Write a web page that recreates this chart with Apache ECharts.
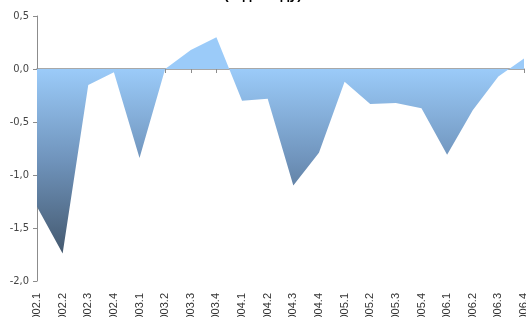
<!DOCTYPE html>
<html>
<head>
<meta charset="utf-8">
<script src="https://cdn.jsdelivr.net/npm/echarts@6/dist/echarts.min.js"></script>
<style>
  html, body { margin: 0; padding: 0; background: #fff; }
  #chart { width: 526px; height: 317px; }
</style>
</head>
<body>
<div id="chart"></div>
<script>
const quarters = [
  '2002.1', '2002.2', '2002.3', '2002.4',
  '2003.1', '2003.2', '2003.3', '2003.4',
  '2004.1', '2004.2', '2004.3', '2004.4',
  '2005.1', '2005.2', '2005.3', '2005.4',
  '2006.1', '2006.2', '2006.3', '2006.4'
]
const values = [
  -1.30, -1.74, -0.15, -0.03,
  -0.84, 0.00, 0.18, 0.30,
  -0.30, -0.28, -1.10, -0.79,
  -0.12, -0.33, -0.32, -0.37,
  -0.81, -0.39, -0.07, 0.10
]
const yTicks = [-2, -1.5, -1, -0.5, 0, 0.5]

const chart = echarts.init(document.getElementById('chart'))

// верх и низ области, чтобы градиент начинался ровно с нуля
const top0 = Math.max(...values)
const bot0 = Math.min(...values)
const zeroAt = top0 / (top0 - bot0)

const option = {
  animation: false,
  title: {
    text: '(год к году)',
    left: 'center',
    top: -17,
    textStyle: { fontSize: 14, fontWeight: 'bold', color: '#000', fontFamily: 'Liberation Sans' }
  },
  grid: { left: 37, right: 2, top: 16, bottom: 36, outerBoundsMode: 'none', containLabel: false },
  xAxis: [
    {
      type: 'category',
      data: quarters,
      boundaryGap: false,
      axisLine: { onZero: true, lineStyle: { color: '#8c8c8c', width: 1.5 } },
      axisTick: { show: true, interval: 0, length: 4, lineStyle: { color: '#8c8c8c' } },
      axisLabel: { show: false, interval: 0 }
    },
    {
      type: 'category',
      data: quarters,
      boundaryGap: false,
      position: 'bottom',
      axisLine: { show: false },
      axisTick: { show: false },
      axisLabel: {
        rotate: 90,
        interval: 0,
        margin: 12,
        fontSize: 11,
        color: '#333',
        fontFamily: 'Liberation Sans Narrow, Liberation Sans, sans-serif'
      }
    }
  ],
  yAxis: {
    type: 'value',
    min: yTicks[0],
    max: yTicks[yTicks.length - 1],
    interval: 0.5,
    splitLine: { show: false },
    axisLine: { show: true, lineStyle: { color: '#8c8c8c' } },
    axisTick: { show: true, length: 4, lineStyle: { color: '#8c8c8c' } },
    axisLabel: {
      fontSize: 11,
      color: '#444',
      margin: 8,
      fontFamily: 'DejaVu Sans Condensed, DejaVu Sans, sans-serif',
      formatter: v => v.toFixed(1).replace('.', ',')
    }
  },
  series: [{
    type: 'line',
    data: values,
    xAxisIndex: 0,
    symbol: 'none',
    lineStyle: { width: 0 },
    areaStyle: {
      opacity: 1,
      color: new echarts.graphic.LinearGradient(0, 0, 0, 1, [
        { offset: 0, color: '#9bcbf9' },
        { offset: zeroAt, color: '#9bcbf9' },
        { offset: zeroAt + (1 - zeroAt) * 0.5, color: '#6f93bb' },
        { offset: 1, color: '#44596f' }
      ])
    }
  }]
}

chart.setOption(option)
</script>
</body>
</html>
